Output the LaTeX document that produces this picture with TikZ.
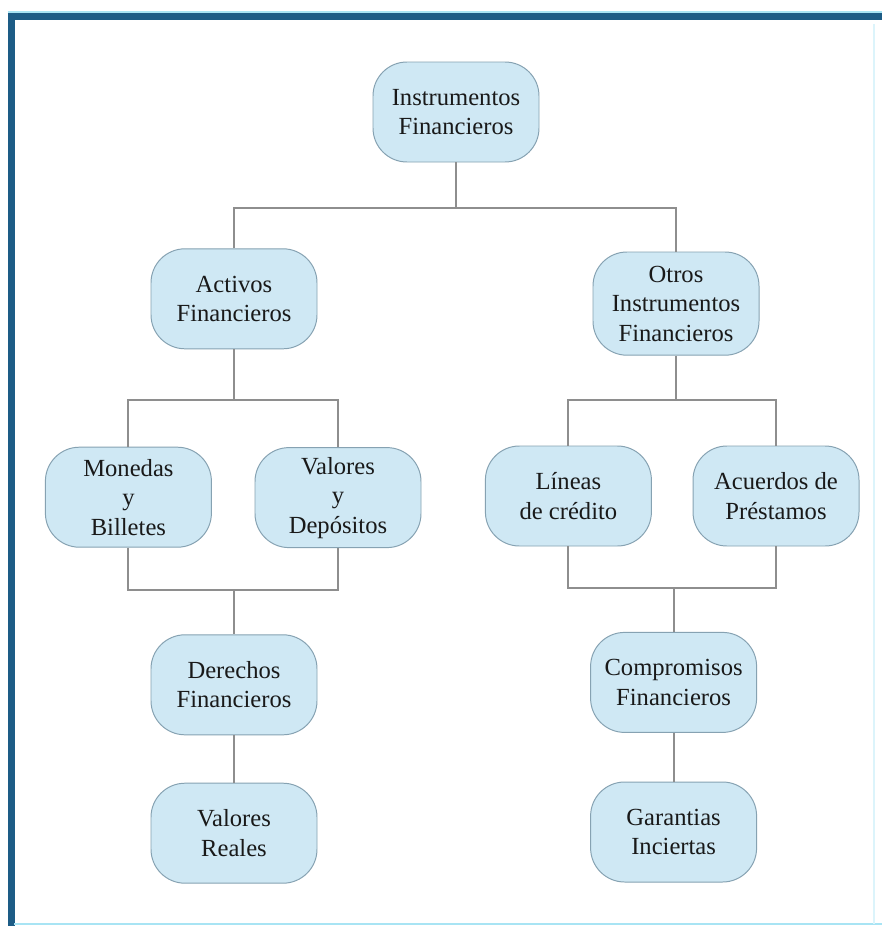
\documentclass[tikz,border=0pt]{standalone}
\usepackage{fontspec}
\setmainfont{Liberation Serif}
\usepackage{tikz}
\definecolor{boxfill}{HTML}{CFE8F4}
\definecolor{boxline}{HTML}{86A2B2}
\definecolor{linkgray}{HTML}{8E8E8E}
\definecolor{framedark}{HTML}{1D5C86}
\definecolor{framelight}{HTML}{A8E4F4}

\begin{document}
\begin{tikzpicture}
[fb/.style={draw=boxline,fill=boxfill,rounded corners=0.85cm,line width=0.7pt
  ,minimum width=4.15cm,minimum height=2.5cm,align=center,inner sep=2pt
  ,text=black!90,font=\fontsize{17.5}{21}\selectfont}
,tall/.style={fb,minimum height=2.58cm}
,ln/.style={draw=linkgray,line width=1.3pt}
]
\useasboundingbox (0,0) rectangle (22.05,-23.15);
\fill[white] (0,0) rectangle (22.05,-23.15);
% frame
\draw[framelight,line width=1.2pt] (0.2,-0.3) -- (22.05,-0.3);
\draw[framedark,line width=5pt] (0.2,-0.42) -- (22.05,-0.42);
\draw[framedark,line width=5pt] (0.28,-0.35) -- (0.28,-23.15);
\draw[framelight,line width=2pt] (0.35,-23.1) -- (22.05,-23.1);
\draw[framelight!40,line width=1pt] (21.85,-0.6) -- (21.85,-23.1);
% boxes
\node[fb] (inst) at (11.4,-2.8) {Instrumentos\\Financieros};
\node[fb] (act) at (5.85,-7.47) {Activos\\Financieros};
\node[tall] (otr) at (16.9,-7.59) {Otros\\Instrumentos\\Financieros};
\node[fb] (mon) at (3.21,-12.43) {Monedas\\y\\Billetes};
\node[fb] (val) at (8.45,-12.44) {Valores\\y\\Depósitos};
\node[fb] (lin) at (14.21,-12.4) {Líneas\\de crédito};
\node[fb] (acu) at (19.4,-12.4) {Acuerdos de\\Préstamos};
\node[fb] (der) at (5.85,-17.12) {Derechos\\Financieros};
\node[fb] (vreal) at (5.85,-20.83) {Valores\\Reales};
\node[fb] (com) at (16.84,-17.06) {Compromisos\\Financieros};
\node[fb] (gar) at (16.84,-20.8) {Garantias\\Inciertas};
% junctions
\coordinate (j1) at (11.4,-5.2);
\coordinate (j2) at (5.85,-10.0);
\coordinate (j3) at (16.9,-10.0);
\coordinate (j4) at (5.85,-14.75);
\coordinate (j5) at (16.84,-14.7);
% links
\draw[ln] (inst) -- (j1);
\draw[ln] (act.north) |- (j1) -| (otr.north);
\draw[ln] (act) -- (j2);
\draw[ln] (mon.north) |- (j2) -| (val.north);
\draw[ln] (otr) -- (j3);
\draw[ln] (lin.north) |- (j3) -| (acu.north);
\draw[ln] (mon.south) |- (j4) -| (val.south);
\draw[ln] (j4) -- (der);
\draw[ln] (der) -- (vreal);
\draw[ln] (lin.south) |- (j5) -| (acu.south);
\draw[ln] (j5) -- (com);
\draw[ln] (com) -- (gar);
\end{tikzpicture}
\end{document}
